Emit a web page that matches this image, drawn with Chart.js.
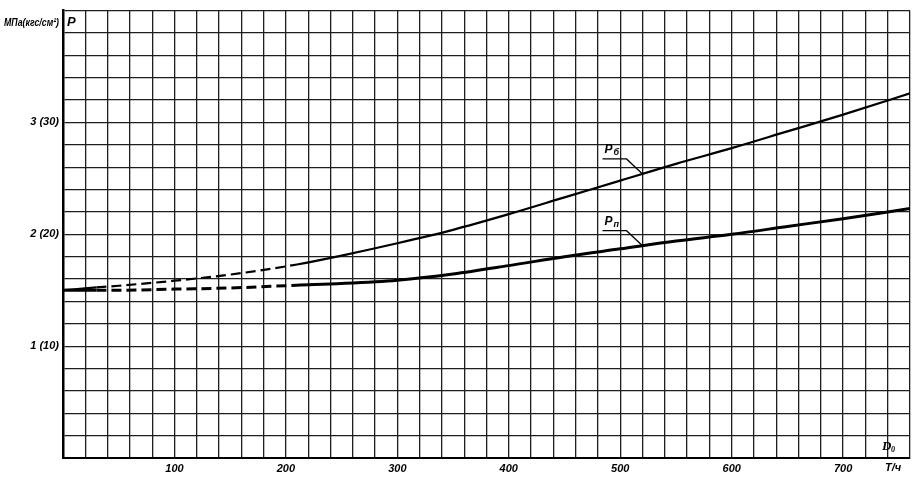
<!DOCTYPE html>
<html>
<head>
<meta charset="utf-8">
<script src="https://cdn.jsdelivr.net/npm/chart.js@4.4.1/dist/chart.umd.min.js"></script>
<style>
html,body{margin:0;padding:0;background:#fff;}
#wrap{width:917px;height:482px;position:relative;}
</style>
</head>
<body>
<div id="wrap"><canvas id="c" width="917" height="482"></canvas></div>
<script>
// ---- data ----
const flowX = [0, 30, 50, 100, 150, 210, 250, 300, 350, 400, 450, 500, 550, 600, 650, 700, 760];
const pUpper = [1.50, 1.525, 1.54, 1.585, 1.64, 1.73, 1.81, 1.92, 2.04, 2.18, 2.33, 2.48, 2.63, 2.77, 2.92, 3.07, 3.26];
const pLower = [1.50, 1.50, 1.50, 1.51, 1.52, 1.545, 1.56, 1.59, 1.645, 1.72, 1.80, 1.87, 1.94, 2.00, 2.07, 2.14, 2.23];
const dashedFrom = 30, dashedTo = 210;
const xTickValues = [100, 200, 300, 400, 500, 600, 700];
const yTickValues = [1, 2, 3];
const yTickLabels = ['1 (10)', '2 (20)', '3 (30)'];
const seriesNames = ['Р', 'Р'];
const seriesSubs = ['б', 'п'];
const labelAtX = 520;
const yUnit = 'МПа(кгс/см²)';
const yName = 'P';
const xName = 'D';
const xNameSub = '0';
const xUnit = 'Т/ч';

const FONT = 'italic bold 11px "Liberation Sans", "DejaVu Sans", sans-serif';

function pts(ys){ return flowX.map((x,i)=>({x:x, y:ys[i]})); }
function interp(ys, x){
  for(let i=0;i<flowX.length-1;i++){
    if(x>=flowX[i] && x<=flowX[i+1]){
      const t=(x-flowX[i])/(flowX[i+1]-flowX[i]);
      return ys[i]+t*(ys[i+1]-ys[i]);
    }
  }
  return ys[ys.length-1];
}
const dashSeg = {
  borderDash: ctx => (ctx.p0.parsed.x >= dashedFrom - 0.01 && ctx.p1.parsed.x <= dashedTo + 0.01) ? [10,5] : undefined
};

const textPlugin = {
  id: 'texts',
  afterDraw(chart){
    const c = chart.ctx, xs = chart.scales.x, ys = chart.scales.y, a = chart.chartArea;
    c.save();
    c.fillStyle = '#000';
    c.strokeStyle = '#000';
    c.font = FONT;
    c.textBaseline = 'middle';
    // y unit, squeezed to fit left margin
    c.save();
    const w = c.measureText(yUnit).width;
    const target = a.left - 8;
    const k = Math.min(1, target / w);
    c.translate(a.left - 4, a.top + 12);
    c.scale(k, 1);
    c.textAlign = 'right';
    c.fillText(yUnit, 0, 0);
    c.restore();
    c.textAlign = 'left';
    c.font = 'italic bold 13px "Liberation Sans", sans-serif';
    c.fillText(yName, a.left + 4, a.top + 12);
    // x title
    c.font = 'italic bold 13px "Liberation Serif", serif';
    c.fillText(xName, a.right - 28, a.bottom - 11);
    c.font = 'italic bold 8px "Liberation Serif", serif';
    c.fillText(xNameSub, a.right - 19, a.bottom - 8);
    c.font = FONT;
    c.textAlign = 'center';
    c.fillText(xUnit, a.right - 17, a.bottom + 10);
    // curve labels with leaders
    [pUpper, pLower].forEach((arr, i) => {
      const px = xs.getPixelForValue(labelAtX);
      const py = ys.getPixelForValue(interp(arr, labelAtX));
      c.lineWidth = 1.3;
      c.beginPath();
      c.moveTo(px, py);
      c.lineTo(px - 16, py - 15);
      c.lineTo(px - 40, py - 15);
      c.stroke();
      c.textAlign = 'left';
      c.font = 'italic bold 12px "Liberation Sans", sans-serif';
      c.fillText(seriesNames[i], px - 38, py - 24);
      c.font = 'italic bold 9px "Liberation Sans", sans-serif';
      c.fillText(seriesSubs[i], px - 29, py - 21);
    });
    c.restore();
  }
};

new Chart(document.getElementById('c'), {
  type: 'line',
  data: {
    datasets: [
      { data: pts(pUpper), borderColor: '#000', borderWidth: 2.2, pointRadius: 0, cubicInterpolationMode: 'monotone', fill: false, segment: dashSeg },
      { data: pts(pLower), borderColor: '#000', borderWidth: 3, pointRadius: 0, cubicInterpolationMode: 'monotone', fill: false, segment: dashSeg }
    ]
  },
  options: {
    responsive: false,
    animation: false,
    layout: { padding: { top: 5, right: 7, left: 0, bottom: 0 } },
    plugins: { legend: { display: false }, tooltip: { enabled: false } },
    scales: {
      x: {
        type: 'linear', min: 0, max: 760,
        afterFit: s => { s.height = 24; },
        ticks: {
          stepSize: 20, autoSkip: false, maxRotation: 0, padding: 4,
          color: '#000', font: { family: '"Liberation Sans", sans-serif', style: 'italic', weight: 'bold', size: 11 },
          callback: v => xTickValues.includes(Math.round(v)) ? String(Math.round(v)) : ''
        },
        grid: { color: '#1e1e1e', lineWidth: 1.3, drawTicks: false },
        border: { color: '#000', width: 2 }
      },
      y: {
        type: 'linear', min: 0, max: 4,
        afterFit: s => { s.width = 63; },
        ticks: {
          stepSize: 0.2, autoSkip: false, padding: 4,
          color: '#000', font: { family: '"Liberation Sans", sans-serif', style: 'italic', weight: 'bold', size: 11 },
          callback: v => { const k = yTickValues.indexOf(Math.round(v*10)/10); return k >= 0 ? yTickLabels[k] : ''; }
        },
        grid: { color: '#1e1e1e', lineWidth: 1.3, drawTicks: false },
        border: { color: '#000', width: 2.5 }
      }
    }
  },
  plugins: [textPlugin]
});
</script>
</body>
</html>
